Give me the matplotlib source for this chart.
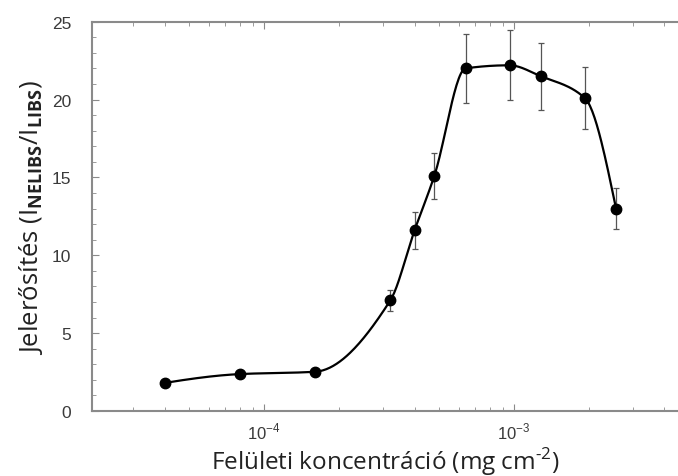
import numpy as np
import matplotlib
matplotlib.use("Agg")
import matplotlib.pyplot as plt
from matplotlib.ticker import LogLocator, FixedLocator, MultipleLocator, NullFormatter

plt.rcParams['mathtext.fontset'] = 'custom'
plt.rcParams['mathtext.rm'] = 'Open Sans'
plt.rcParams['mathtext.bf'] = 'Open Sans:bold'
plt.rcParams['mathtext.sf'] = 'Liberation Sans'

# surface concentration (mg cm-2) and enhancement factor with errors
conc = [4e-5, 8e-5, 1.6e-4, 3.2e-4, 4e-4, 4.8e-4, 6.4e-4, 9.6e-4, 1.28e-3, 1.92e-3, 2.56e-3]
gain = [1.8, 2.37, 2.52, 7.1, 11.6, 15.1, 22.0, 22.2, 21.5, 20.1, 13.0]
gain_err = [0.0, 0.0, 0.0, 0.7, 1.2, 1.5, 2.2, 2.25, 2.15, 2.0, 1.3]

x_ticks = [1e-4, 1e-3]
x_tick_labels = [r'10$^{\mathsf{-4}}$', r'10$^{\mathsf{-3}}$']


def pchip(x, y, xs):
    # shape preserving cubic (Fritsch-Carlson)
    x = np.asarray(x, float)
    y = np.asarray(y, float)
    h = np.diff(x)
    d = np.diff(y) / h
    m = np.zeros_like(y)
    for k in range(1, len(x) - 1):
        if d[k - 1] * d[k] > 0:
            w1 = 2 * h[k] + h[k - 1]
            w2 = h[k] + 2 * h[k - 1]
            m[k] = (w1 + w2) / (w1 / d[k - 1] + w2 / d[k])
    m[0] = ((2 * h[0] + h[1]) * d[0] - h[0] * d[1]) / (h[0] + h[1])
    if np.sign(m[0]) != np.sign(d[0]):
        m[0] = 0
    m[-1] = ((2 * h[-1] + h[-2]) * d[-1] - h[-1] * d[-2]) / (h[-1] + h[-2])
    if np.sign(m[-1]) != np.sign(d[-1]):
        m[-1] = 0
    idx = np.clip(np.searchsorted(x, xs) - 1, 0, len(x) - 2)
    t = (xs - x[idx]) / h[idx]
    h00 = 2 * t**3 - 3 * t**2 + 1
    h10 = t**3 - 2 * t**2 + t
    h01 = -2 * t**3 + 3 * t**2
    h11 = t**3 - t**2
    return h00 * y[idx] + h10 * h[idx] * m[idx] + h01 * y[idx + 1] + h11 * h[idx] * m[idx + 1]


lx = np.log10(conc)
lxs = np.linspace(lx[0], lx[-1], 400)
curve = pchip(lx, gain, lxs)

fig = plt.figure(figsize=(6.78, 4.77), dpi=100)
ax = fig.add_axes([0.1357, 0.1363, 0.8643, 0.8161])

ax.plot(10**lxs, curve, color='black', lw=1.6, zorder=2)
ax.errorbar(conc, gain, yerr=gain_err, fmt='none', ecolor='#555555',
            elinewidth=0.9, capsize=2.5, capthick=0.9, zorder=1)
ax.plot(conc, gain, 'o', color='black', ms=7.5, zorder=3)

ax.set_xscale('log')
ax.set_xlim(2.05e-5, 4.53e-3)
ax.set_ylim(0, 25)

ax.xaxis.set_major_locator(FixedLocator(x_ticks))
ax.set_xticklabels(x_tick_labels, fontfamily='Liberation Sans', fontsize=12)
ax.xaxis.set_minor_locator(LogLocator(base=10, subs=np.arange(2, 10)))
ax.xaxis.set_minor_formatter(NullFormatter())
ax.yaxis.set_major_locator(MultipleLocator(5))
ax.yaxis.set_minor_locator(MultipleLocator(1))
for lbl in ax.get_yticklabels():
    lbl.set_fontfamily('Liberation Sans')
    lbl.set_fontsize(12.5)

ax.tick_params(which='both', direction='in', top=True, right=False, colors='#8a8a8a',
               labelcolor='#3a3a3a')
ax.tick_params(axis='y', which='major', length=5, width=0.8, pad=15)
ax.tick_params(axis='x', which='major', length=5, width=0.8, pad=7)
ax.tick_params(which='minor', length=3, width=0.6)

for side in ['left', 'bottom', 'top']:
    ax.spines[side].set_color('#8a8a8a')
    ax.spines[side].set_linewidth(1.5)
ax.spines['right'].set_visible(False)

ax.set_xlabel(r'Felületi koncentráció (mg cm$^{\text{-2}}$)', fontfamily='Open Sans',
              fontsize=17.5, color='#222222', labelpad=3)
ax.set_ylabel(r'Jelerősítés (I$_{\mathbf{NELIBS}}$/I$_{\mathbf{LIBS}}$)',
              fontfamily='Open Sans', fontsize=18.5, color='#222222', labelpad=5)

fig.savefig('out.png', dpi=100)
